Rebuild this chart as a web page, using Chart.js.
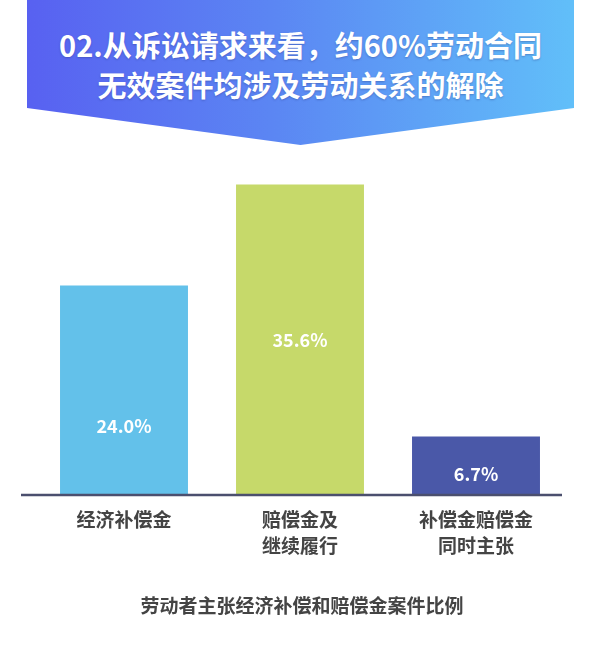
<!DOCTYPE html>
<html>
<head>
<meta charset="utf-8">
<script src="https://cdn.jsdelivr.net/npm/chart.js@4"></script>
<style>
  html, body { margin: 0; padding: 0; background: #fff; }
  #wrap { position: relative; width: 600px; height: 672px; overflow: hidden; }
  #banner {
    position: absolute; left: 27px; top: 0; width: 547px; height: 145px;
    background: linear-gradient(90deg, #5861f1 0%, #5b86f3 45%, #61bff9 100%);
    clip-path: polygon(0 0, 100% 0, 100% 108px, 50% 145px, 0 108px);
    z-index: 2;
  }
  #banner div {
    position: absolute; left: 0; width: 100%; text-align: center;
    color: #fff; font-family: "Noto Sans CJK SC", sans-serif; font-weight: bold;
    font-size: 29px; line-height: 40px;
    text-shadow: 0 1px 2px rgba(40, 50, 120, 0.35);
  }
  #caption {
    position: absolute; left: 0; width: 604px; top: 592px; text-align: center;
    color: #444; font-family: "Noto Sans CJK SC", sans-serif; font-weight: bold;
    font-size: 19px; line-height: 26px;
  }
  canvas { position: absolute; left: 0; top: 0; }
</style>
</head>
<body>
<div id="wrap">
  <div id="banner">
    <div style="top:24px">02.从诉讼请求来看，约60%劳动合同</div>
    <div style="top:64px">无效案件均涉及劳动关系的解除</div>
  </div>
  <canvas id="myChart" width="600" height="672"></canvas>
  <div id="caption">劳动者主张经济补偿和赔偿金案件比例</div>
</div>
<script>
document.addEventListener('DOMContentLoaded', function() {

    //  Data Block
    const categories = [['经济补偿金'], ['赔偿金及', '继续履行'], ['补偿金赔偿金', '同时主张']];
    const shares = [24.0, 35.6, 6.7];

    const bar_colors = ['#63c1ea', '#c6d96a', '#4a58a8'];

    //  Baseline Plugin Block (line runs a little past the left bar)
    const baseline = {
        id: 'baseline',
        afterDatasetsDraw(chart, args, options) {
            const { ctx, chartArea: { left, right, bottom } } = chart;
            ctx.save();
            ctx.strokeStyle = options.color;
            ctx.lineWidth = options.width;
            ctx.beginPath();
            ctx.moveTo(left - options.extendLeft, bottom);
            ctx.lineTo(right - options.trimRight, bottom);
            ctx.stroke();
            ctx.restore();
        }
    };

    //  Value Labels Plugin Block
    const valueLabels = {
        id: 'valueLabels',
        afterDatasetsDraw(chart, args, options) {
            const { ctx } = chart;
            const meta = chart.getDatasetMeta(0);
            ctx.save();
            ctx.font = 'bold ' + options.fontSize + 'px ' + options.fontFamily;
            ctx.fillStyle = options.fontColor;
            ctx.textAlign = 'center';
            ctx.textBaseline = 'middle';
            meta.data.forEach(function(bar, i) {
                const h = bar.base - bar.y;
                const y = bar.base - h * options.anchors[i];
                ctx.fillText(shares[i].toFixed(1) + '%', bar.x, y);
            });
            ctx.restore();
        }
    };

    //  Config Block
    const config = {
        type: 'bar',
        data: {
            labels: categories,
            datasets: [{
                data: shares,
                backgroundColor: bar_colors,
                borderWidth: 0,
                barPercentage: 1,
                categoryPercentage: 0.727
            }]
        },
        options: {
            responsive: false,
            animation: false,
            layout: {
                padding: { top: 146, left: 36, right: 36, bottom: 101 }
            },
            scales: {
                x: {
                    grid: { display: false, drawTicks: false },
                    border: { display: false },
                    ticks: {
                        color: '#444',
                        padding: 12,
                        autoSkip: false,
                        maxRotation: 0,
                        font: { family: '"Noto Sans CJK SC", sans-serif', size: 19, weight: 'bold', lineHeight: 1.37 }
                    }
                },
                y: {
                    display: false,
                    min: 0,
                    max: 40
                }
            },
            plugins: {
                legend: { display: false },
                tooltip: { enabled: false },
                baseline: { color: '#4b4f6e', width: 2.5, extendLeft: 15, trimRight: 2 },
                valueLabels: {
                    fontColor: '#ffffff',
                    fontSize: 18,
                    fontFamily: '"Noto Sans CJK SC", sans-serif',
                    anchors: [0.33, 0.5, 0.35]
                }
            }
        },
        plugins: [baseline, valueLabels]
    };

    //  Render Init Block
    new Chart(document.getElementById('myChart'), config);

});
</script>
</body>
</html>
